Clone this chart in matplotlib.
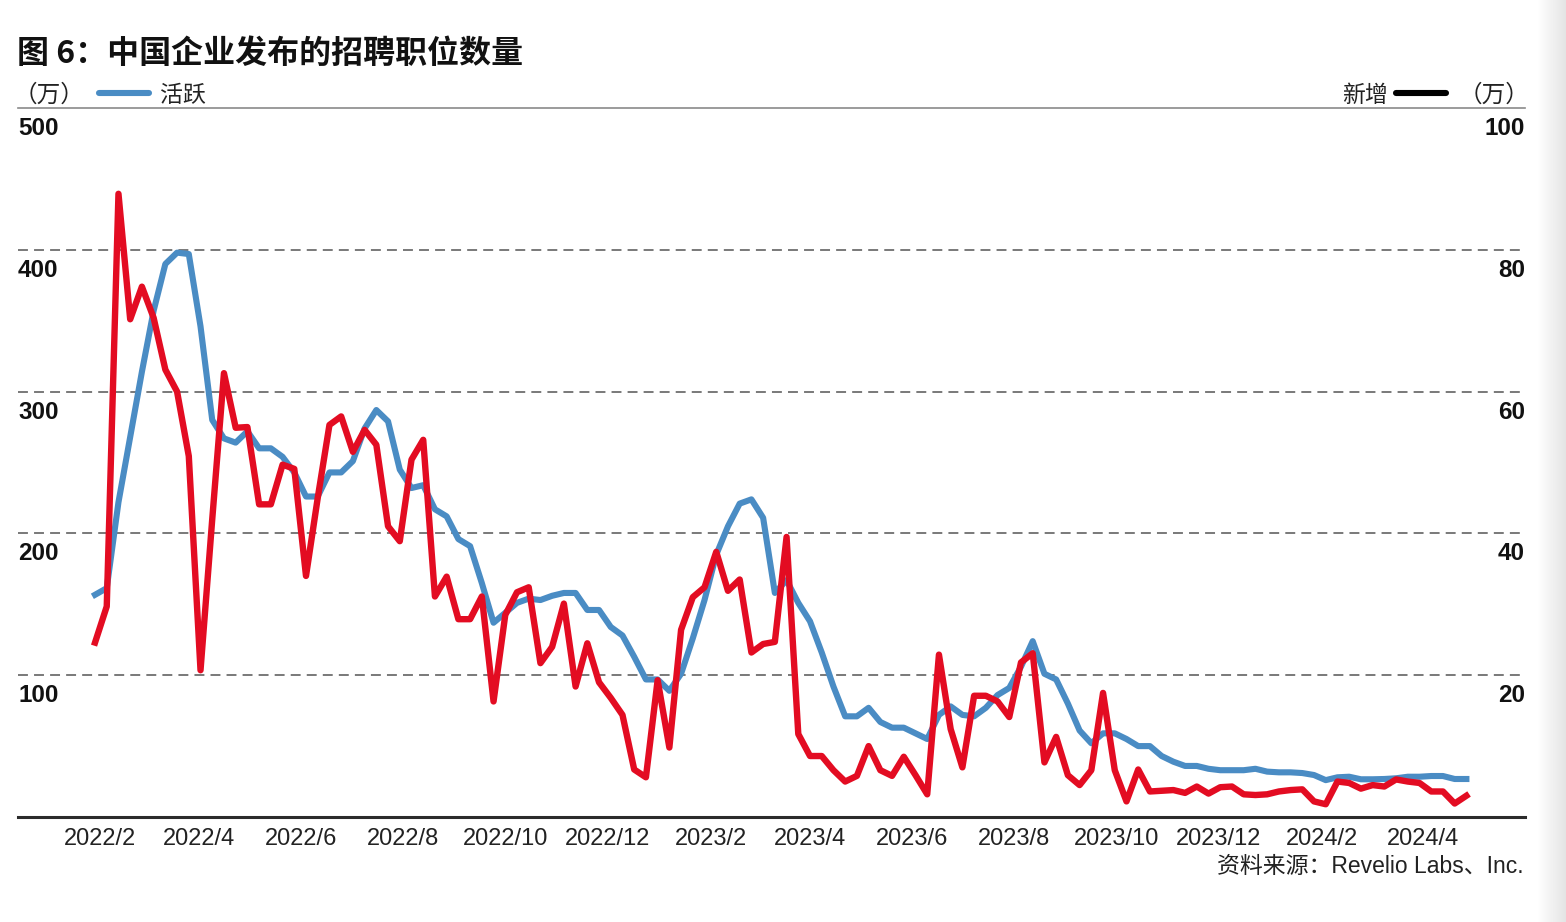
import matplotlib
matplotlib.use("Agg")
import matplotlib.pyplot as plt
import matplotlib.transforms as mtransforms
from matplotlib.lines import Line2D
import numpy as np
import pandas as pd

# weekly job postings, 万 (10k)
dates = pd.date_range("2022-01-29", periods=118, freq="7D")

active = [156.7, 161.4, 222, 268, 314, 357, 390, 398, 397, 346,
          280, 267, 264, 272, 260, 260, 254, 243, 226, 226,
          243, 243, 251, 274, 287, 279, 245, 232, 234, 217,
          212, 196, 191, 165, 137, 144, 151, 154, 153, 156,
          158, 158, 146, 146, 134, 128, 113, 97, 97, 89,
          101, 126, 153, 185, 205, 221, 224, 211, 158, 167,
          151, 138, 116, 92, 71, 71, 77, 67, 63, 63,
          59, 55, 72, 78, 72, 71, 77, 86, 91, 106,
          124, 101, 97, 80, 61, 52, 59, 59, 55, 50,
          50, 43, 39, 36, 36, 34, 33, 33, 33, 34,
          32, 31.5, 31.5, 31, 29.6, 26, 28, 28.4, 26.6, 26.6,
          26.8, 27.3, 28.4, 28.4, 28.9, 28.9, 26.8, 26.8]

new = [24.6, 29.7, 87.9, 70.2, 74.8, 70.4, 63.1, 60.0, 50.9, 20.7,
       42, 62.6, 54.9, 55.0, 44.1, 44.1, 49.7, 49.1, 34.0, 45,
       55.3, 56.5, 51.5, 54.6, 52.5, 41.0, 38.9, 50.4, 53.2, 31.1,
       33.9, 27.9, 27.9, 31.1, 16.3, 28.5, 31.7, 32.4, 21.7, 24.0,
       30.1, 18.4, 24.5, 19.0, 16.8, 14.4, 6.7, 5.6, 19.3, 9.8,
       26.4, 31.0, 32.4, 37.4, 31.9, 33.5, 23.2, 24.4, 24.7, 39.5,
       11.7, 8.6, 8.6, 6.6, 5.0, 5.8, 10.0, 6.6, 5.8, 8.5,
       5.9, 3.2, 22.9, 12.4, 7.0, 17.1, 17.1, 16.3, 14.1, 21.8,
       23.1, 7.7, 11.3, 5.9, 4.5, 6.6, 17.5, 6.6, 2.2, 6.7,
       3.6, 3.7, 3.8, 3.4, 4.3, 3.3, 4.2, 4.3, 3.2, 3.1,
       3.2, 3.6, 3.8, 3.9, 2.2, 1.8, 5.0, 4.8, 4.0, 4.5,
       4.3, 5.3, 5.0, 4.8, 3.6, 3.6, 1.9, 3.0]

tick_dates = pd.to_datetime(["2022-02-01", "2022-04-01", "2022-06-01", "2022-08-01",
                             "2022-10-01", "2022-12-01", "2023-02-01", "2023-04-01",
                             "2023-06-01", "2023-08-01", "2023-10-01", "2023-12-01",
                             "2024-02-01", "2024-04-01"])
tick_labels = ["2022/2", "2022/4", "2022/6", "2022/8", "2022/10", "2022/12", "2023/2",
               "2023/4", "2023/6", "2023/8", "2023/10", "2023/12", "2024/2", "2024/4"]
left_ticks = [500, 400, 300, 200, 100]
right_ticks = [100, 80, 60, 40, 20]

BLUE = "#4A8CC4"
RED = "#E30C22"
LATIN = ["Liberation Sans", "Noto Sans CJK SC"]
CJK = ["Noto Sans CJK SC", "DejaVu Sans"]

W, H = 1566, 922
fig = plt.figure(figsize=(W / 100, H / 100), dpi=100)
fig.set_facecolor("white")

# faint grey shading at right edge
gax = fig.add_axes([1538 / W, 0, 28 / W, 1])
grad = np.linspace(0, 1, 50).reshape(1, -1)
gax.imshow(grad, aspect="auto", cmap=matplotlib.colors.LinearSegmentedColormap.from_list(
    "g", ["#ffffff", "#e4e4e4"]), extent=[0, 1, 0, 1])
gax.axis("off")

ax = fig.add_axes([18 / W, (H - 817) / H, 1507 / W, 709 / H])
ax.set_ylim(0, 500)
ax.set_xlim(pd.Timestamp("2021-12-14"), pd.Timestamp("2024-06-01"))
ax.plot(dates, active, color=BLUE, lw=4.4, zorder=3)

ax2 = ax.twinx()
ax2.set_ylim(0, 100)
ax2.plot(dates, new, color=RED, lw=4.6, zorder=4)

for a in (ax, ax2):
    for s in a.spines.values():
        s.set_visible(False)
    a.set_yticks([])
ax.spines["top"].set_visible(True)
ax.spines["top"].set_color("#8a8a8a")
ax.spines["top"].set_linewidth(1.2)
ax.spines["bottom"].set_visible(True)
ax.spines["bottom"].set_color("#2b2b2b")
ax.spines["bottom"].set_linewidth(2.2)

for v in [100, 200, 300, 400]:
    ax.axhline(v, color="#555555", lw=1.1, ls=(0, (6.5, 4.0)), zorder=1)

ax.set_xticks(tick_dates)
ax.set_xticklabels(tick_labels, family=LATIN, fontsize=17, color="#222222")
ax.tick_params(axis="x", length=0, pad=8)
ax2.tick_params(axis="x", length=0)

# y labels sit just under each gridline
tl = mtransforms.offset_copy(mtransforms.blended_transform_factory(ax.transAxes, ax.transData),
                             fig=fig, y=-9, units="dots")
for v in left_ticks:
    ax.text(0, v, str(v), transform=tl, ha="left", va="top", family=LATIN,
            fontsize=17.5, fontweight="bold", color="#111111")
tr = mtransforms.offset_copy(mtransforms.blended_transform_factory(ax2.transAxes, ax2.transData),
                             fig=fig, y=-9, units="dots")
for v in right_ticks:
    ax2.text(1, v, str(v), transform=tr, ha="right", va="top", family=LATIN,
             fontsize=17.5, fontweight="bold", color="#111111")

# title
fig.text(17 / W, 1 - 54 / H, "图 6：中国企业发布的招聘职位数量", family=CJK, fontsize=23,
         fontweight="bold", va="center", ha="left", color="#111111")

# legend row
ly = 1 - 95 / H
fig.text(14 / W, ly, "（万）", family=CJK, fontsize=17, va="center", ha="left", color="#222222")
fig.add_artist(Line2D([99 / W, 149 / W], [1 - 93 / H] * 2, color=BLUE, lw=4.4,
                      solid_capstyle="round", transform=fig.transFigure))
fig.text(160 / W, ly, "活跃", family=CJK, fontsize=16.5, va="center", ha="left", color="#222222")

fig.text(1388 / W, ly, "新增", family=CJK, fontsize=16.5, va="center", ha="right", color="#222222")
fig.add_artist(Line2D([1396 / W, 1446 / W], [1 - 93 / H] * 2, color="black", lw=4.4,
                      solid_capstyle="round", transform=fig.transFigure))
fig.text(1529 / W, ly, "（万）", family=CJK, fontsize=17, va="center", ha="right", color="#222222")

# source
fig.text(1524 / W, 1 - 866 / H, "资料来源：Revelio Labs、Inc.", family=LATIN, fontsize=16.5,
         va="center", ha="right", color="#222222")

fig.savefig("out.png", dpi=100, facecolor="white")
plt.close()
